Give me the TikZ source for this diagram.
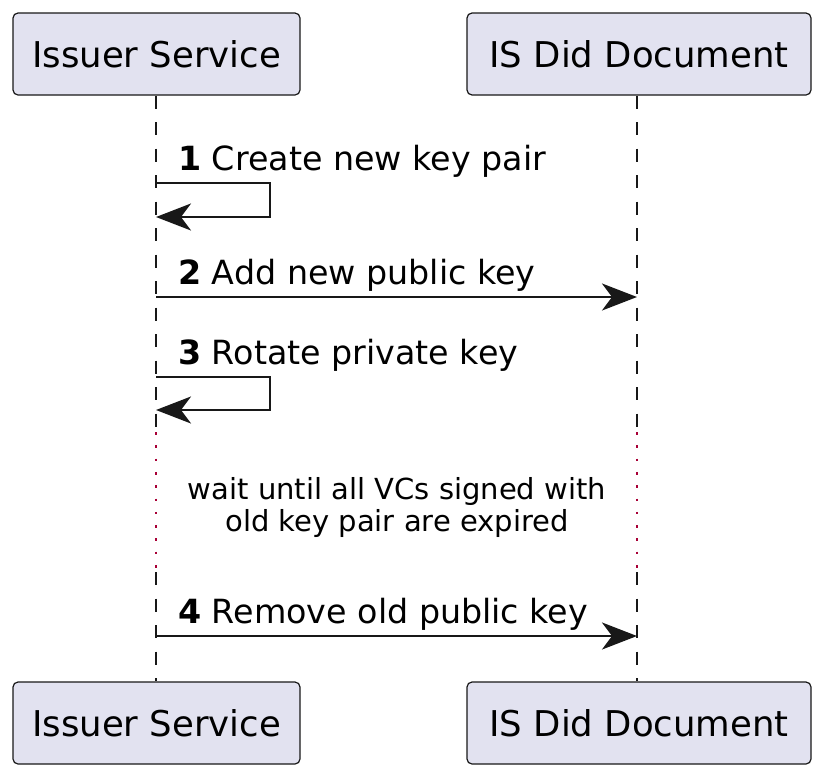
\documentclass[tikz,border=0pt]{standalone}
\usepackage{fontspec}
\setmainfont{DejaVu Sans}
\usetikzlibrary{arrows.meta}
\definecolor{partfill}{HTML}{E2E2F0}
\definecolor{lineclr}{HTML}{181818}
\definecolor{delayclr}{HTML}{A80036}

\begin{document}
\begin{tikzpicture}[x=1pt,y=-1pt]
        \tikzstyle{participant}=[draw=lineclr,fill=partfill,line width=1.2pt,rounded corners=5pt,minimum height=82pt,inner sep=0pt,font=\fontsize{35.5}{42}\selectfont]
        \tikzstyle{lifeline}=[draw=lineclr,line width=1.3pt,dash pattern=on 13pt off 13.5pt]
        \tikzstyle{delayline}=[draw=delayclr,line width=2.6pt,dash pattern=on 2.6pt off 10.7pt]
        \tikzstyle{message}=[draw=lineclr,line width=2.2pt,-{Stealth[length=35pt,width=27pt,inset=10pt]}]
        \tikzstyle{msglabel}=[anchor=base west,inner sep=0pt,font=\fontsize{33.3}{40}\selectfont]
        \useasboundingbox (0,0) rectangle (824,777);
        % participants
        \node[participant,minimum width=287pt] (isTop) at (156.5,54) {Issuer Service};
        \node[participant,minimum width=344pt] (didTop) at (639,54) {IS Did Document};
        \node[participant,minimum width=287pt] (isBot) at (156.5,723) {Issuer Service};
        \node[participant,minimum width=344pt] (didBot) at (639,723) {IS Did Document};
        % lifelines, with the delay part
        \coordinate (isDelayA) at (156,432);
        \coordinate (isDelayB) at (156,572);
        \coordinate (didDelayA) at (637,432);
        \coordinate (didDelayB) at (637,572);
        \draw[lifeline] (isTop.south -| isDelayA) -- (isDelayA);
        \draw[delayline] (isDelayA) -- (isDelayB);
        \draw[lifeline] (isDelayB) -- (isBot.north -| isDelayB);
        \draw[lifeline] (didTop.south -| didDelayA) -- (didDelayA);
        \draw[delayline] (didDelayA) -- (didDelayB);
        \draw[lifeline] (didDelayB) -- (didBot.north -| didDelayB);
        % messages
        \coordinate (is1a) at (156,183);
        \coordinate (is1b) at (156,217);
        \draw[message] (is1a) -- ++(114,0) |- (is1b);
        \node[msglabel] (lab1) at (178,170) {\textbf{1} Create new key pair};
        \coordinate (is2) at (156,297);
        \coordinate (did2) at (637,297);
        \draw[message] (is2) -- (did2);
        \node[msglabel] (lab2) at (178,284) {\textbf{2} Add new public key};
        \coordinate (is3a) at (156,377);
        \coordinate (is3b) at (156,410);
        \draw[message] (is3a) -- ++(114,0) |- (is3b);
        \node[msglabel] (lab3) at (178,364) {\textbf{3} Rotate private key};
        \node[align=center,inner sep=0pt,font=\fontsize{29}{32}\selectfont] (wait) at (397,507) {wait until all VCs signed with\\old key pair are expired};
        \coordinate (is4) at (156,636);
        \coordinate (did4) at (637,636);
        \draw[message] (is4) -- (did4);
        \node[msglabel] (lab4) at (178,623) {\textbf{4} Remove old public key};
\end{tikzpicture}
\end{document}
